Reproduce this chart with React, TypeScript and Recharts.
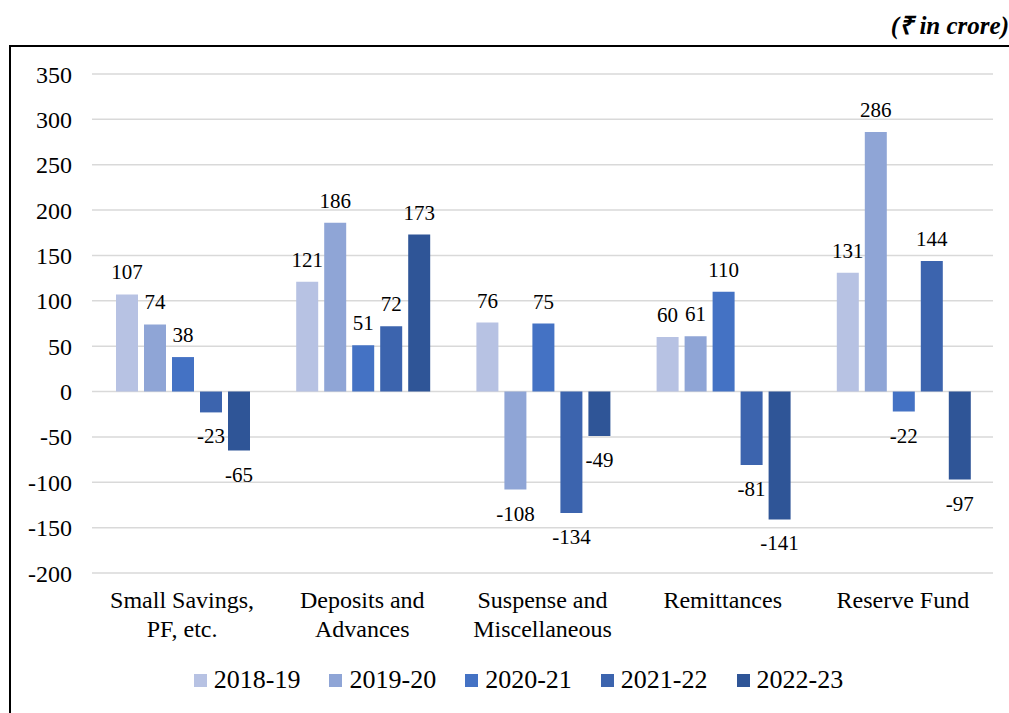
import React from 'react';
import { BarChart, Bar, XAxis, YAxis, CartesianGrid, Legend, LabelList } from 'recharts';

const categories = [
  'Small Savings,\nPF, etc.',
  'Deposits and\nAdvances',
  'Suspense and\nMiscellaneous',
  'Remittances',
  'Reserve Fund',
];

const years = ['2018-19', '2019-20', '2020-21', '2021-22', '2022-23'];
const colors = ['#B7C2E3', '#8FA5D6', '#4472C4', '#3C64AE', '#2F5597'];

const v2018 = [107, 121, 76, 60, 131];
const v2019 = [74, 186, -108, 61, 286];
const v2020 = [38, 51, 75, 110, -22];
const v2021 = [-23, 72, -134, -81, 144];
const v2022 = [-65, 173, -49, -141, -97];

const yTicks = [-200, -150, -100, -50, 0, 50, 100, 150, 200, 250, 300, 350];

const seriesValues = [v2018, v2019, v2020, v2021, v2022];
const data = categories.map((name, i) => {
  const row: any = { name };
  years.forEach((yr, s) => {
    row[yr] = seriesValues[s][i];
  });
  return row;
});

const FONT = '"Liberation Serif", "Times New Roman", serif';

const CategoryTick = (props: any) => {
  const { x, y, payload } = props;
  const lines = String(payload.value).split('\n');
  return (
    <text x={x} y={y} textAnchor="middle" fontFamily={FONT} fontSize={24} fill="#000">
      {lines.map((ln, i) => (
        <tspan key={i} x={x} dy={i === 0 ? 35 : 29}>
          {ln}
        </tspan>
      ))}
    </text>
  );
};

const ValueLabel = (props: any) => {
  const { x, y, width, height, value } = props;
  const top = Math.min(y, y + height);
  const bottom = Math.max(y, y + height);
  const cx = x + width / 2;
  const ty = value >= 0 ? top - 15 : bottom + 31;
  return (
    <text x={cx} y={ty} textAnchor="middle" fontFamily={FONT} fontSize={21} fill="#000">
      {value}
    </text>
  );
};

const LegendContent = (props: any) => {
  const { payload } = props;
  return (
    <div
      style={{
        display: 'flex',
        justifyContent: 'center',
        alignItems: 'center',
        height: 30,
        paddingLeft: 44,
        fontFamily: FONT,
        fontSize: 26,
        color: '#000',
      }}
    >
      {payload.map((p: any, i: number) => (
        <div
          key={p.value}
          style={{ display: 'flex', alignItems: 'center', marginRight: i === payload.length - 1 ? 0 : 29 }}
        >
          <span style={{ width: 13, height: 13, background: p.color, marginRight: 7, display: 'inline-block' }} />
          <span>{p.value}</span>
        </div>
      ))}
    </div>
  );
};

export default function App() {
  return (
    <div
      style={{
        position: 'absolute',
        left: 0,
        top: 0,
        width: 1009,
        height: 713,
        overflow: 'hidden',
        background: '#fff',
      }}
    >
      <div
        style={{
          position: 'absolute',
          right: 0,
          top: 7,
          fontFamily: FONT,
          fontSize: 25,
          fontWeight: 'bold',
          fontStyle: 'italic',
          color: '#000',
        }}
      >
        (₹ in crore)
      </div>
      <div
        style={{
          position: 'absolute',
          left: 9,
          top: 45,
          width: 1100,
          height: 800,
          borderTop: '2px solid #000',
          borderLeft: '2px solid #000',
        }}
      />
      <div style={{ position: 'absolute', left: 0, top: 0 }}>
        <BarChart
          width={1009}
          height={713}
          data={data}
          margin={{ top: 74, right: 16, left: 0, bottom: 18 }}
          barCategoryGap={24}
          barGap={6}
        >
          <CartesianGrid vertical={false} stroke="#D9D9D9" strokeWidth={1.5} />
          <XAxis
            dataKey="name"
            axisLine={false}
            tickLine={false}
            tickSize={0}
            tickMargin={0}
            height={92}
            interval={0}
            tick={<CategoryTick />}
          />
          <YAxis
            domain={[-200, 350]}
            ticks={yTicks}
            interval={0}
            axisLine={false}
            tickLine={false}
            tickSize={0}
            tickMargin={20}
            width={92}
            tick={{ fontFamily: FONT, fontSize: 24, fill: '#000' }}
          />
          <Legend verticalAlign="bottom" content={<LegendContent />} />
          {years.map((yr, s) => (
            <Bar key={yr} dataKey={yr} fill={colors[s]} isAnimationActive={false}>
              <LabelList dataKey={yr} content={<ValueLabel />} />
            </Bar>
          ))}
        </BarChart>
      </div>
    </div>
  );
}
